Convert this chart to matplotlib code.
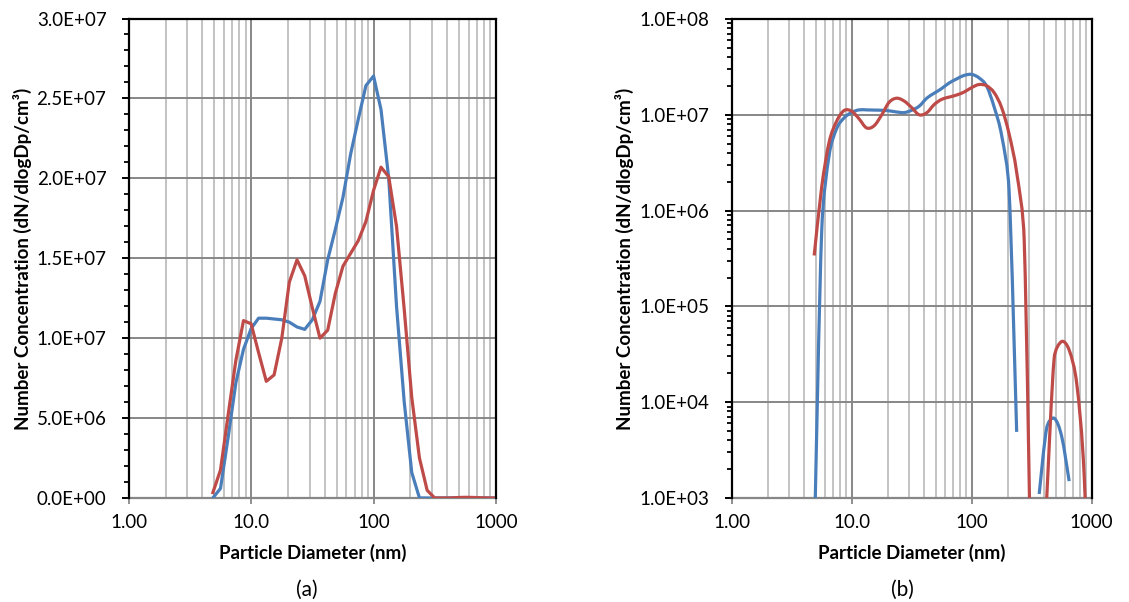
import numpy as np
import matplotlib
matplotlib.use("Agg")
import matplotlib.pyplot as plt
from matplotlib.path import Path
from matplotlib.patches import PathPatch
from matplotlib.ticker import (MultipleLocator, FixedLocator, FuncFormatter,
                               LogLocator, NullFormatter)

plt.rcParams['font.family'] = ['Lato', 'DejaVu Sans']

# Particle size bins (nm)
diameter = [4.87, 5.62, 6.49, 7.50, 8.66, 10.0, 11.5, 13.3, 15.4, 17.8,
            20.5, 23.7, 27.4, 31.6, 36.5, 42.2, 48.7, 56.2, 64.9, 75.0,
            86.6, 100.0, 115.0, 133.0, 154.0, 178.0, 205.0, 237.0, 274.0, 316.0,
            365.0, 422.0, 487.0, 562.0, 649.0, 750.0, 866.0, 1000.0]

# Number concentration dN/dlogDp (#/cm3)
series_blue = [3.0e2, 0.6e6, 3.8e6, 7.2e6, 9.3e6, 10.6e6, 11.25e6, 11.25e6, 11.2e6, 11.15e6,
               11.0e6, 10.7e6, 10.55e6, 11.15e6, 12.3e6, 14.9e6, 16.8e6, 18.8e6, 21.5e6, 23.7e6,
               25.8e6, 26.4e6, 24.3e6, 20.0e6, 12.0e6, 6.0e6, 1.6e6, 4.9e3, 0.0, 0.0,
               1.1e3, 5.4e3, 6.8e3, 4.4e3, 1.5e3, 0.0, 0.0, 0.0]

series_red = [0.34e6, 1.75e6, 5.2e6, 8.6e6, 11.1e6, 10.9e6, 9.1e6, 7.3e6, 7.7e6, 10.0e6,
              13.5e6, 14.9e6, 13.9e6, 11.9e6, 10.0e6, 10.5e6, 12.8e6, 14.5e6, 15.3e6, 16.1e6,
              17.3e6, 19.25e6, 20.7e6, 20.1e6, 17.0e6, 11.8e6, 6.3e6, 2.5e6, 0.48e6, 50.0,
              0.0, 1.0e3, 2.9e4, 4.3e4, 3.5e4, 1.57e4, 1.7e3, 10.0]

x_ticks = [1, 10, 100, 1000]
x_tick_labels = ['1.00', '10.0', '100', '1000']
x_label = 'Particle Diameter (nm)'
y_label = 'Number Concentration (dN/dlogDp/cm³)'
panel_tags = ['(a)', '(b)']

BLUE = '#4a7ebb'
RED = '#be4b48'
GRID_MAJOR = '#878787'
GRID_MINOR = '#c3c3c3'

W, H = 1129, 602
fig = plt.figure(figsize=(W / 100, H / 100), dpi=100)


def axes_px(x0, x1, y0, y1):
    return fig.add_axes([x0 / W, 1 - y1 / H, (x1 - x0) / W, (y1 - y0) / H])


def style_axes(ax):
    ax.set_xscale('log')
    ax.set_xlim(1, 1000)
    ax.xaxis.set_major_locator(FixedLocator(x_ticks))
    ax.xaxis.set_major_formatter(FuncFormatter(
        lambda v, p: x_tick_labels[x_ticks.index(round(v))] if round(v) in x_ticks else ''))
    ax.xaxis.set_minor_locator(LogLocator(base=10, subs=np.arange(2, 10)))
    ax.xaxis.set_minor_formatter(NullFormatter())
    ax.set_axisbelow(True)
    ax.grid(which='major', color=GRID_MAJOR, lw=1.4)
    ax.grid(which='minor', axis='x', color=GRID_MINOR, lw=1.4)
    ax.tick_params(axis='x', which='major', direction='out', length=4.5,
                   width=1.3, color=GRID_MAJOR, labelsize=13.5, pad=7)
    ax.tick_params(axis='x', which='minor', length=0)
    ax.tick_params(axis='y', which='major', direction='out', length=5,
                   width=1.4, color='black', labelsize=13.5, pad=11)
    ax.tick_params(axis='y', which='minor', direction='out', length=3.5,
                   width=1.3, color='black')
    for side in ('left', 'top', 'right'):
        ax.spines[side].set_color('black')
        ax.spines[side].set_linewidth(1.6)
        ax.spines[side].set_zorder(4)
    ax.spines['bottom'].set_color(GRID_MAJOR)
    ax.spines['bottom'].set_linewidth(1.6)


def smooth_log_line(ax, x, y, color):
    """Smoothed line through the points (cubic Bezier in log-log space,
    control arms limited to half of the segment length); zeros leave a gap."""
    x = np.asarray(x, float)
    y = np.asarray(y, float)
    # work in screen-like units so lengths are comparable on both axes
    bbox = ax.get_position()
    sx = bbox.width * W / 3.0            # px per decade of x
    sy = bbox.height * H / 5.0           # px per decade of y
    scale = np.array([sx, sy])
    idx = np.flatnonzero(y > 0)
    runs = np.split(idx, np.where(np.diff(idx) != 1)[0] + 1)
    for r in runs:
        if len(r) < 2:
            continue
        P = np.column_stack([np.log10(x[r]), np.log10(y[r])]) * scale
        n = len(P)
        verts = [P[0]]
        codes = [Path.MOVETO]
        for i in range(n - 1):
            p0 = P[max(i - 1, 0)]
            p1 = P[i]
            p2 = P[i + 1]
            p3 = P[min(i + 2, n - 1)]
            d12 = np.hypot(*(p2 - p1))
            d02 = np.hypot(*(p2 - p0))
            d13 = np.hypot(*(p3 - p1))
            f0 = 1 / 6
            f1 = 1 / 6
            if d02 / 6 >= d12 / 2 and d02 > 0:
                f0 = d12 / 2 / d02
            if d13 / 6 >= d12 / 2 and d13 > 0:
                f1 = d12 / 2 / d13
            verts += [p1 + f0 * (p2 - p0), p2 - f1 * (p3 - p1), p2]
            codes += [Path.CURVE4] * 3
        verts = 10 ** (np.array(verts) / scale)
        ax.add_patch(PathPatch(Path(verts, codes), fill=False, edgecolor=color,
                               lw=2.3, joinstyle='round', capstyle='butt', zorder=3))


# (a) linear concentration axis
ax_a = axes_px(128.7, 496.0, 18.5, 498.0)
style_axes(ax_a)
ax_a.set_ylim(0, 3.0e7)
ax_a.yaxis.set_major_locator(MultipleLocator(5.0e6))
ax_a.yaxis.set_minor_locator(MultipleLocator(1.0e6))
ax_a.yaxis.set_major_formatter(FuncFormatter(lambda v, p: f'{v:.1E}'))
ax_a.plot(diameter, series_blue, color=BLUE, lw=2.3, zorder=3, solid_joinstyle='round')
ax_a.plot(diameter, series_red, color=RED, lw=2.3, zorder=3, solid_joinstyle='round')

# (b) logarithmic concentration axis
ax_b = axes_px(731.7, 1091.7, 19.0, 498.0)
style_axes(ax_b)
ax_b.set_yscale('log')
ax_b.set_ylim(1.0e3, 1.0e8)
ax_b.yaxis.set_major_locator(LogLocator(base=10, numticks=10))
ax_b.yaxis.set_minor_locator(LogLocator(base=10, subs=np.arange(2, 10), numticks=10))
ax_b.yaxis.set_minor_formatter(NullFormatter())
ax_b.yaxis.set_major_formatter(FuncFormatter(lambda v, p: f'{v:.1E}'))
smooth_log_line(ax_b, diameter, series_blue, BLUE)
smooth_log_line(ax_b, diameter, series_red, RED)

# Axis titles and panel tags
for xc, yl_x, tag_x, tag in ((312.3, 22.5, 306.7, panel_tags[0]),
                             (911.7, 624.0, 902.0, panel_tags[1])):
    fig.text(xc / W, 1 - 552.7 / H, x_label, ha='center', va='center',
             fontsize=13.5, fontweight='bold')
    fig.text(yl_x / W, 1 - 259.0 / H, y_label, ha='center', va='center',
             rotation=90, fontsize=13.5, fontweight='bold')
    fig.text(tag_x / W, 1 - 590.0 / H, tag, ha='center', va='center', fontsize=15)

fig.savefig('out.png', dpi=100)
